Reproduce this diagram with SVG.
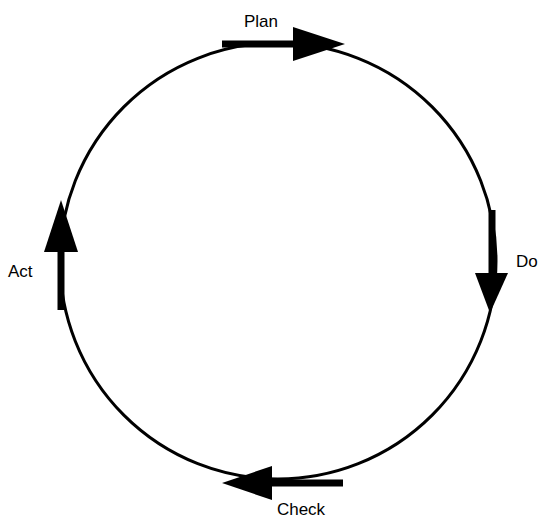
<svg xmlns="http://www.w3.org/2000/svg" width="539" height="520" viewBox="0 0 539 520">
<style>
.ring{fill:none;stroke:#000;stroke-width:3}
.shaft{stroke:#000;stroke-width:7;fill:none}
.head{fill:#000;stroke:none}
text{font-family:"Liberation Sans",Arial,sans-serif;font-size:17px;fill:#000}
</style>
<rect width="539" height="520" fill="#fff"/>
<g id="cycle">
<circle class="ring" cx="278" cy="261" r="218"/>
</g>
<g id="connectors">
<line class="shaft" x1="222" y1="44" x2="296" y2="44"/>
<polygon class="head" points="293,27 345,44 293,61"/>
<line class="shaft" x1="492" y1="210" x2="492" y2="276"/>
<polygon class="head" points="475,273 508,273 490,313"/>
<line class="shaft" x1="343" y1="483" x2="269" y2="483"/>
<polygon class="head" points="272,466 222,483 272,500"/>
<line class="shaft" x1="61" y1="310" x2="61" y2="249"/>
<polygon class="head" points="44,252 78,252 61,200"/>
</g>
<g id="plan"><text x="261" y="27" text-anchor="middle">Plan</text></g>
<g id="do"><text x="516" y="267">Do</text></g>
<g id="check"><text x="301" y="515" text-anchor="middle">Check</text></g>
<g id="act"><text x="8" y="277">Act</text></g>
</svg>
